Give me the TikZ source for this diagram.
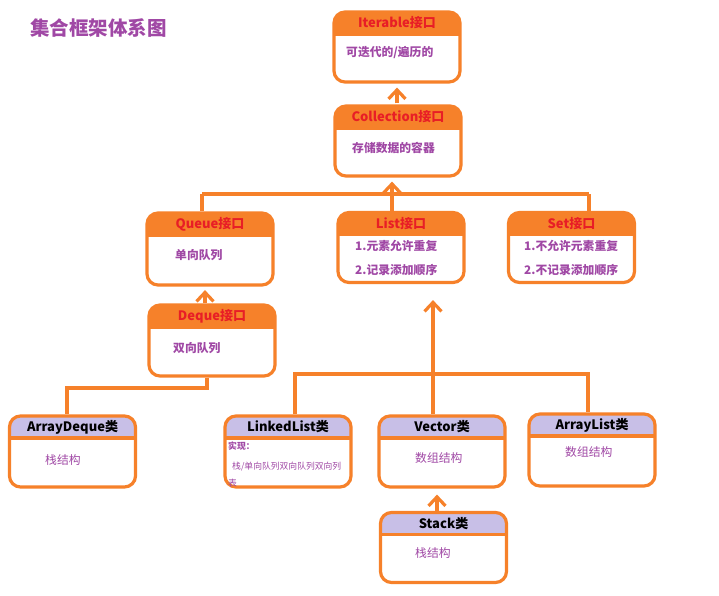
\documentclass[tikz,border=0pt]{standalone}
\usepackage{fontspec}
\setmainfont{Noto Sans CJK SC}
\usepackage{xcolor}
\usepackage{tikz}
\usetikzlibrary{positioning,arrows.meta,calc}
\definecolor{jorange}{RGB}{246,129,42}
\definecolor{jred}{RGB}{232,30,38}
\definecolor{jpurple}{RGB}{160,72,165}
\definecolor{jlav}{RGB}{200,191,231}
\tikzset{
  box/.style={draw=jorange, line width=3.2pt, rounded corners=11pt, fill=white, inner sep=0pt,
    minimum width=126pt, minimum height=70pt,
    path picture={
      \fill[#1, sharp corners] (path picture bounding box.north west) rectangle ([yshift=-22pt]path picture bounding box.north east);
      \draw[jorange, line width=3.2pt, sharp corners] ([yshift=-22pt]path picture bounding box.north west) -- ([yshift=-22pt]path picture bounding box.north east);
    }},
  iface/.style={box=jorange},
  klass/.style={box=jlav},
  ihead/.style={font=\fontsize{13}{15}\selectfont\bfseries, text=jred, inner sep=0pt},
  khead/.style={font=\fontsize{13}{15}\selectfont\bfseries, text=black, inner sep=0pt},
  ibody/.style={font=\fontsize{11.8}{14}\selectfont\bfseries, text=jpurple, inner sep=0pt, anchor=west},
  kbody/.style={font=\fontsize{11.8}{14}\selectfont, text=jpurple, inner sep=0pt, anchor=west},
  ln/.style={draw=jorange, line width=3.2pt},
  arr/.style={-{Straight Barb[length=9pt, width=17pt]}, line width=3.2pt, draw=jorange},
}
\begin{document}
\begin{tikzpicture}[x=1pt, y=-1pt]
  \useasboundingbox[fill=white] (0,0) rectangle (719,596);
  \node[anchor=west, inner sep=0pt, font=\fontsize{19.5}{21}\selectfont\bfseries, text=jpurple] (title) at (30,28) {集合框架体系图};

  % interfaces
  \node[iface] (it) at (397,47) {};
  \node[iface] (col) at (398,141) {};
  \node[iface, minimum height=72pt] (que) at (210,249) {};
  \node[iface] (lst) at (401,247.5) {};
  \node[iface] (set) at (571.5,247.5) {};
  \node[iface, minimum height=71pt] (dq) at (212,340.5) {};
  \node[ihead] (it-h) at ([yshift=-12.5pt]it.north) {Iterable接口};
  \node[ihead] (col-h) at ([yshift=-12.5pt]col.north) {Collection接口};
  \node[ihead] (que-h) at ([yshift=-12.5pt]que.north) {Queue接口};
  \node[ihead] (lst-h) at ([yshift=-12.5pt]lst.north) {List接口};
  \node[ihead] (set-h) at ([yshift=-12.5pt]set.north) {Set接口};
  \node[ihead] (dq-h) at ([yshift=-12.5pt]dq.north) {Deque接口};
  \node[ibody] (it-b) at (346,52) {可迭代的/遍历的};
  \node[ibody] (col-b) at (352,148) {存储数据的容器};
  \node[ibody] (que-b) at (175,255) {单向队列};
  \node[ibody] (dq-b) at (173,348) {双向队列};
  \node[ibody] (lst-b1) at (355,246) {1.元素允许重复};
  \node[ibody] (lst-b2) at (355,270) {2.记录添加顺序};
  \node[ibody] (set-b1) at (524,246) {1.不允许元素重复};
  \node[ibody] (set-b2) at (524,270) {2.不记录添加顺序};

  % classes
  \node[klass, minimum height=71pt] (ad) at (72.5,451.5) {};
  \node[klass, minimum height=71pt] (ll) at (288,451.5) {};
  \node[klass, minimum height=71pt] (vec) at (442,451.5) {};
  \node[klass, minimum height=72pt] (al) at (592,450) {};
  \node[klass] (stk) at (443.5,547.5) {};
  \node[khead] (ad-h) at ([yshift=-12.5pt]ad.north) {ArrayDeque类};
  \node[khead] (ll-h) at ([yshift=-12.5pt]ll.north) {LinkedList类};
  \node[khead] (vec-h) at ([yshift=-12.5pt]vec.north) {Vector类};
  \node[khead] (al-h) at ([yshift=-12.5pt]al.north) {ArrayList类};
  \node[khead] (stk-h) at ([yshift=-12.5pt]stk.north) {Stack类};
  \node[kbody] (ad-b) at (45,460) {栈结构};
  \node[kbody, font=\fontsize{8.8}{10}\selectfont\bfseries] (ll-b1) at (228,446) {实现：};
  \node[kbody, font=\fontsize{8.8}{10}\selectfont] (ll-b2) at (232,467) {栈/单向队列双向队列双向列};
  \node[kbody, font=\fontsize{8.8}{10}\selectfont] (ll-b3) at (228,483) {表};
  \node[kbody] (vec-b) at (415,458) {数组结构};
  \node[kbody] (al-b) at (565,452) {数组结构};
  \node[kbody] (stk-b) at (415,553) {栈结构};

  % junctions
  \coordinate (j1) at (202,194);
  \coordinate (j2) at (392,194);
  \coordinate (j3) at (589,194);
  \coordinate (j4) at (207,388);
  \coordinate (j5) at (67,388);
  \coordinate (j6) at (295,374);
  \coordinate (j7) at (433,374);
  \coordinate (j8) at (588,374);

  % connectors
  \draw[arr, shorten >=4pt, shorten <=1pt] (col.north -| it.south) -- (it.south);
  \draw[ln] (j1) -- (j3);
  \draw[arr, shorten >=4pt] (j2) -- (j2 |- col.south);
  \draw[ln] (j1) -- (j1 |- que.north);
  \draw[ln] (j2) -- (j2 |- lst.north);
  \draw[ln] (j3) -- (j3 |- set.north);
  \draw[arr, shorten >=3.5pt] ([xshift=-7pt]dq.north) -- ([xshift=-7pt]dq.north |- que.south);
  \draw[ln] (j4 |- dq.south) -- (j4) -- (j5) -- (j5 |- ad.north);
  \draw[ln] (j6 |- ll.north) -- (j6) -- (j8) -- (j8 |- al.north);
  \draw[arr, shorten >=16pt] (j7 |- vec.north) -- (j7 |- lst.south);
  \draw[arr, shorten >=6pt] ([xshift=-6.5pt]stk.north) -- ([xshift=-6.5pt]stk.north |- vec.south);
\end{tikzpicture}
\end{document}
